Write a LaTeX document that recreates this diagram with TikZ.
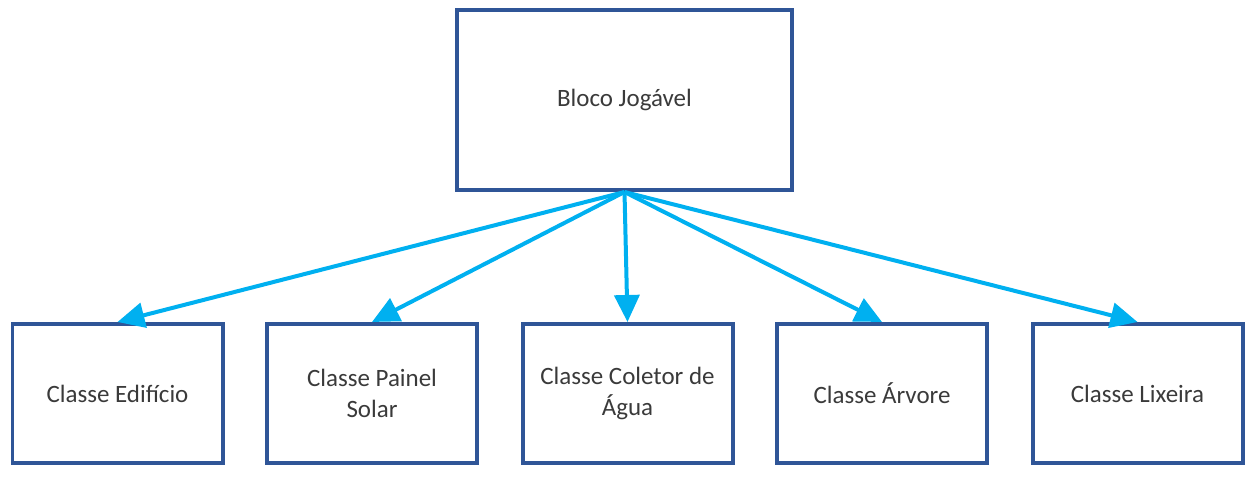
\documentclass[tikz,border=0pt]{standalone}
\usepackage{fontspec}
\setmainfont{Carlito}
\usetikzlibrary{arrows.meta}
\definecolor{boxblue}{HTML}{2F5597}
\definecolor{linkblue}{HTML}{00B0F0}
\definecolor{textgray}{HTML}{3A3A3A}

\begin{document}
\begin{tikzpicture}
  [box/.style={rectangle,draw=boxblue,line width=.04cm,inner sep=0pt,
     text=textgray,font=\fontsize{7.1}{8.6}\selectfont,align=center},
   classe/.style={box,minimum width=2.1cm,minimum height=1.39cm},
   link/.style={draw=linkblue,line width=.04cm,-{Triangle[length=2.7mm,width=2.5mm]}}]
  \useasboundingbox (0,0) rectangle (12.54,4.77);
  \node[box,minimum width=3.35cm,minimum height=1.8cm] (bloco) at (6.245,3.77) {Bloco Jogável};
  \node[classe] (edificio) at (1.175,0.835) {Classe Edifício};
  \node[classe] (painel) at (3.72,0.835) {Classe Painel\\Solar};
  \node[classe] (coletor) at (6.275,0.835) {Classe Coletor de\\Água};
  \node[classe] (arvore) at (8.82,0.835) {Classe Árvore};
  \node[classe] (lixeira) at (11.375,0.835) {Classe Lixeira};
  \foreach \to in {edificio,painel,coletor,arvore,lixeira}
    \draw[link] (bloco.south) -- (\to.north);
\end{tikzpicture}
\end{document}
